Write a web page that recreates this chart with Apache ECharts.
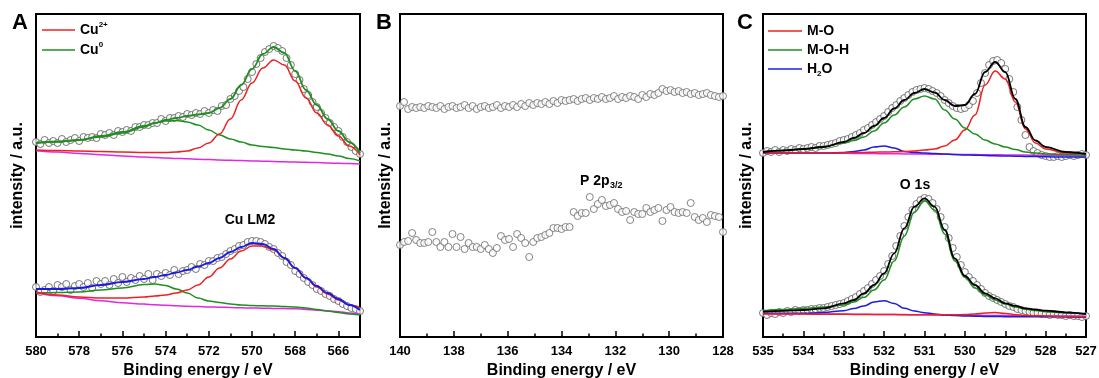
<!DOCTYPE html>
<html><head><meta charset="utf-8">
<script src="https://cdn.jsdelivr.net/npm/echarts@6/dist/echarts.min.js"></script>
<style>html,body{margin:0;padding:0;background:#fff}#c{width:1099px;height:378px}</style>
</head><body><div id="c"></div>
<script>
// ---------- Panel A : Cu LMM ----------
const aPtsX = [580,579.8,579.6,579.4,579.2,579,578.8,578.6,578.4,578.2,578,577.8,577.6,577.4,577.2,577,576.8,576.6,576.4,576.2,576,575.8,575.6,575.4,575.2,575,574.8,574.6,574.4,574.2,574,573.8,573.6,573.4,573.2,573,572.8,572.6,572.4,572.2,572,571.8,571.6,571.4,571.2,571,570.8,570.6,570.4,570.2,570,569.8,569.6,569.4,569.2,569,568.8,568.6,568.4,568.2,568,567.8,567.6,567.4,567.2,567,566.8,566.6,566.4,566.2,566,565.8,565.6,565.4,565.2,565];
const aUpPts = [195,193,197,194,196,194,198,195,197,199,196,200,199,200,199,203,202,204,202,206,205,207,206,210,210,212,212,214,214,218,216,219,219,221,220,223,222,224,223,226,224,227,226,231,232,238,241,246,250,258,265,273,279,285,288,291,289,286,279,272,263,257,248,242,235,230,224,219,214,210,206,200,195,190,186,183];
const aLowPts = [50,45,47,50,46,52,50,53,47,51,53,50,54,49,56,53,56,52,58,54,60,55,59,57,61,58,63,57,63,61,64,62,67,63,66,67,70,68,73,72,76,76,79,80,83,86,88,91,92,95,96,96,95,93,90,88,84,81,75,72,66,63,59,55,52,48,46,43,41,38,36,33,31,29,28,26];
const aFitX = [580,579,578,577,576,575,574.5,574,573.5,573,572.5,572,571.5,571,570.5,570,569.5,569,568.5,568,567.5,567,566.5,566,565.5,565];
const aUpEnv = [194,195.5,197,201,205,211,214,217,219,221,222.5,224,229,238,252,268,283,290,284,266,247,232,218,206,195,184];
const aUpCu2 = [187,186.5,186,185.5,185,184.5,184.5,184.5,185,186,189,194,203,218,237,254,269,277,272,256,239,224,212,201,191,182];
const aUpCu0 = [194,195,197,200,204,210,214,216,216.5,215,212,207,202,198,195,192,190.5,189.5,188,187,186,184.5,183,181,178.5,176];
const aUpBase = [186.3,185,183.6,182.3,181.1,180,179.5,179,178.6,178.2,177.8,177.4,177,176.7,176.4,176.1,175.8,175.5,175.2,175,174.7,174.4,174,173.7,173.4,173];
const aLowEnv = [48,48,49,52,55,58,60,62,64.5,67,70.5,74,79,85,90,94,93,88,79,69,59,51,44,38,32,27];
const aLowCu2 = [45,42,40,39,39,40,41,42,44,47,52,60,69,78,86,91,91,87,79,69,59,50,43,37,32,29];
const aLowCu0 = [44,44.5,45,47,49,52.5,53,51.5,48,44,39,36,34.5,33,32,31.5,31.2,31,30.5,30,29,27.5,26,24.5,23,22];
const aLowBase = [44.3,41.3,38.7,36.3,34.3,32.9,32.3,31.7,31.2,30.8,30.4,30,29.8,29.5,29.2,29,28.8,28.6,28.4,28.3,27.6,26.8,26,25.3,24,22.7];
const aMajor = [580,578,576,574,572,570,568,566];
const aMinor = [579,577,575,573,571,569,567,565];

// ---------- Panel B : P 2p ----------
const bPtsX = [140,139.85,139.7,139.55,139.4,139.25,139.1,138.95,138.8,138.65,138.5,138.35,138.2,138.05,137.9,137.75,137.6,137.45,137.3,137.15,137,136.85,136.7,136.55,136.4,136.25,136.1,135.95,135.8,135.65,135.5,135.35,135.2,135.05,134.9,134.75,134.6,134.45,134.3,134.15,134,133.85,133.7,133.55,133.4,133.25,133.1,132.95,132.8,132.65,132.5,132.35,132.2,132.05,131.9,131.75,131.6,131.45,131.3,131.15,131,130.85,130.7,130.55,130.4,130.25,130.1,129.95,129.8,129.65,129.5,129.35,129.2,129.05,128.9,128.75,128.6,128.45,128.3,128.15,128];
const bUpPts = [231,235,228,230,229,230,229,231,230,229,231,228,230,231,229,230,232,229,231,228,230,231,229,230,232,229,231,230,232,230,233,231,234,232,234,233,235,233,236,234,237,236,237,238,236,238,239,237,239,238,240,238,239,241,238,240,239,241,240,238,242,240,243,242,244,248,246,247,245,246,244,245,243,244,242,243,244,242,241,240,241];
const bLowPts = [92,95,96,104,97,94,94,95,105,95,90,95,90,103,90,100,88,94,90,90,88,92,88,84,89,101,97,98,90,103,99,94,80,95,99,100,102,104,109,109,108,110,110,125,121,124,124,140,128,133,137,131,132,134,128,125,126,117,125,123,123,129,125,127,129,116,127,130,125,124,125,124,134,120,117,119,115,122,121,120,105];
const bMajor = [140,138,136,134,132,130,128];
const bMinor = [139,137,135,133,131,129];

// ---------- Panel C : O 1s ----------
const cPtsX = [535,534.9,534.8,534.7,534.6,534.5,534.4,534.3,534.2,534.1,534,533.9,533.8,533.7,533.6,533.5,533.4,533.3,533.2,533.1,533,532.9,532.8,532.7,532.6,532.5,532.4,532.3,532.2,532.1,532,531.9,531.8,531.7,531.6,531.5,531.4,531.3,531.2,531.1,531,530.9,530.8,530.7,530.6,530.5,530.4,530.3,530.2,530.1,530,529.9,529.8,529.7,529.6,529.5,529.4,529.3,529.2,529.1,529,528.9,528.8,528.7,528.6,528.5,528.4,528.3,528.2,528.1,528,527.9,527.8,527.7,527.6,527.5,527.4,527.3,527.2,527.1,527];
const cUpPts = [184,186,185,187,185,187,186,188,187,189,188,189,190,189,191,191,192,193,194,196,197,198,200,202,204,207,209,212,215,218,221,225,229,232,236,239,242,245,247,248,249,248,246,244,241,237,234,231,229,228,229,232,236,244,254,264,272,276,277,274,268,258,245,230,217,202,190,186,184,182,181,180,180,181,180,181,182,181,182,183,182];
const cLowPts = [24,22,24,23,25,24,26,25,27,26,27,27,28,28,29,29,30,31,32,33,34,36,38,40,43,46,49,53,57,61,66,73,81,91,101,111,120,127,133,137,139,138,134,128,120,110,99,89,80,72,65,60,56,52,48,44,41,39,37,35,33,31,30,28,27,26,25,24,24,23,23,22,23,22,22,21,22,21,21,20,21];
const cFitX = [535,534.5,534,533.5,533,532.75,532.5,532.25,532,531.75,531.5,531.25,531,530.75,530.5,530.25,530,529.75,529.5,529.25,529,528.75,528.5,528.25,528,527.5,527];
const cUpSum = [185,186.5,188,190,195,199,204,211,219,228.5,237,244,248,244.5,237,231,232,243,265,275,265,238,210,196.5,190,185,183];
const cUpMO = [184,184,184,184,184.2,184.4,184.6,184.8,185,185.2,185.5,186,187,188,191,197,207,222,252,266,258,235,208,194,188,184,183];
const cUpMOH = [185,186.5,188,190.5,194,196.5,200,206,214,222,230,238,241,238,227,218,209,203,197,193,190,187.5,185,184,183,182.5,182];
const cUpH2O = [184,184,184,184,184.5,185.5,187,190,191,189,185.5,184.5,184,183.5,183,182.5,182,181.8,181.5,181.2,181,180.8,180.6,180.4,180.2,180,180];
const cUpBase = [184.5,184.3,184.1,183.9,183.7,183.6,183.5,183.4,183.3,183.2,183.1,183,182.9,182.8,182.7,182.6,182.5,182.4,182.3,182.2,182.1,182,181.9,181.8,181.7,181.4,181];
const cLowSum = [25.3,26.2,27,28.7,33.7,37,43.7,52,63.7,83.7,108.7,130.3,138.7,130.3,107,78.7,61,52,43.7,38.7,33.7,31.2,28.7,27.5,26.3,24.7,23];
const cLowMO = [23,23,22.9,22.8,22.7,22.6,22.5,22.5,22.4,22.4,22.3,22.3,22.3,22.3,22.3,22.3,22.4,23,24,24.5,23.5,22.3,21.8,21.3,21,20.6,20.3];
const cLowMOH = [26.3,27.5,28.7,30,32,35,39.7,47,57,76,101,125,136.3,127,103,76,59.7,49,42,37,33,30,27.7,26.5,25.3,24,23];
const cLowH2O = [23.7,23.7,23.7,24.5,26.3,28.5,31,35,36.3,33.5,28.7,26,24.3,23,22,21.5,21,20.8,20.6,20.5,20.3,20.3,20.3,20.3,20.3,20,19.7];
const cLowBase = [23.5,23.3,23.2,23,22.9,22.8,22.7,22.6,22.5,22.5,22.4,22.3,22.2,22.1,22,21.9,21.8,21.7,21.6,21.5,21.4,21.3,21.2,21.1,21,20.9,20.8];
const cMajor = [535,534,533,532,531,530,529,528,527];
const cMinor = [534.5,533.5,532.5,531.5,530.5,529.5,528.5,527.5];

// ---------- styling ----------
const F = "'Liberation Sans', Arial, sans-serif";
const RED = '#ee2020', GREEN = '#1f8f1f', BLUE = '#1c1ce0', MAG = '#e228e2', BLK = '#000';
const pairs = (xs, ys) => xs.map((x, i) => [x, ys[i]]);

const grids = [
  {left: 36, top: 14, width: 324, height: 323},
  {left: 400, top: 14, width: 323, height: 323},
  {left: 763, top: 14, width: 323, height: 323}
].map(g => Object.assign(g, {show: true, borderColor: '#000', borderWidth: 2, backgroundColor: 'transparent',
  containLabel: false, outerBoundsMode: 'none'}));

const ranges = [[565, 580, aMajor, aMinor], [128, 140, bMajor, bMinor], [527, 535, cMajor, cMinor]];
const xAxes = [];
ranges.forEach((r, g) => {
  xAxes.push({
    type: 'value', gridIndex: g, min: r[0], max: r[1], inverse: true, position: 'bottom',
    axisLine: {show: true, onZero: false, lineStyle: {color: BLK, width: 2}},
    axisTick: {show: true, inside: true, length: 6, customValues: r[2], lineStyle: {color: BLK, width: 1.5}},
    axisLabel: {customValues: r[2], margin: 8, color: BLK, fontFamily: F, fontWeight: 'bold', fontSize: 13},
    splitLine: {show: false},
    name: 'Binding energy / eV', nameLocation: 'middle', nameGap: 22,
    nameTextStyle: {color: BLK, fontFamily: F, fontWeight: 'bold', fontSize: 16}
  });
  xAxes.push({
    type: 'value', gridIndex: g, min: r[0], max: r[1], inverse: true, position: 'bottom', offset: 0,
    axisLine: {show: false},
    axisTick: {show: true, inside: true, length: 3.5, customValues: r[3], lineStyle: {color: BLK, width: 1.5}},
    axisLabel: {show: false}, splitLine: {show: false}
  });
});

const yNames = ['intensity / a.u.', 'Intensity / a.u.', 'intensity / a.u.'];
const yGaps = [10, 6, 8];
const yAxes = yNames.map((n, g) => ({
  type: 'value', gridIndex: g, min: 0, max: 323,
  axisLine: {show: true, lineStyle: {color: BLK, width: 2}},
  axisTick: {show: false}, axisLabel: {show: false}, splitLine: {show: false},
  name: n, nameLocation: 'middle', nameGap: yGaps[g],
  nameTextStyle: {color: BLK, fontFamily: F, fontWeight: 'bold', fontSize: 16}
}));

function pts(g, xs, ys, col) {
  return {type: 'scatter', xAxisIndex: g * 2, yAxisIndex: g, data: pairs(xs, ys),
    symbol: 'circle', symbolSize: 7, silent: true, z: 2,
    itemStyle: {color: '#fff', borderColor: col, borderWidth: 1}};
}
function fit(g, xs, ys, col, z, w) {
  return {type: 'line', xAxisIndex: g * 2, yAxisIndex: g, data: pairs(xs, ys),
    showSymbol: false, symbol: 'none', smooth: 0.4, smoothMonotone: 'x', silent: true, z: z,
    lineStyle: {color: col, width: w || 1.5}};
}

const series = [
  pts(0, aPtsX, aUpPts, '#555'), pts(0, aPtsX, aLowPts, '#555'),
  fit(0, aFitX, aUpBase, MAG, 3), fit(0, aFitX, aUpCu0, GREEN, 4), fit(0, aFitX, aUpCu2, RED, 5), fit(0, aFitX, aUpEnv, GREEN, 6, 1.8),
  fit(0, aFitX, aLowBase, MAG, 3), fit(0, aFitX, aLowCu0, GREEN, 4), fit(0, aFitX, aLowCu2, RED, 5), fit(0, aFitX, aLowEnv, BLUE, 6, 1.8),
  pts(1, bPtsX, bUpPts, '#666'), pts(1, bPtsX, bLowPts, '#666'),
  pts(2, cPtsX, cUpPts, '#555'), pts(2, cPtsX, cLowPts, '#555'),
  fit(2, cFitX, cUpBase, MAG, 3), fit(2, cFitX, cUpH2O, BLUE, 4), fit(2, cFitX, cUpMO, RED, 5), fit(2, cFitX, cUpMOH, GREEN, 6), fit(2, cFitX, cUpSum, BLK, 7, 1.8),
  fit(2, cFitX, cLowBase, MAG, 3), fit(2, cFitX, cLowH2O, BLUE, 4), fit(2, cFitX, cLowMO, RED, 5), fit(2, cFitX, cLowMOH, GREEN, 6), fit(2, cFitX, cLowSum, BLK, 7, 1.8)
];

const tx = (x, y, text, size, align, extra) => ({type: 'text', x: x, y: y, z: 100,
  style: Object.assign({text: text, fontSize: size, fontWeight: 'bold', fontFamily: F, fill: BLK, align: align || 'left', verticalAlign: 'middle'}, extra || {})});
const ln = (x1, x2, y, col) => ({type: 'line', z: 100, shape: {x1: x1, y1: y, x2: x2, y2: y}, style: {stroke: col, lineWidth: 1.5}});
const supRich = {
  m: {fontSize: 14, fontWeight: 'bold', fontFamily: F, fill: BLK, lineHeight: 16, verticalAlign: 'bottom'},
  s: {fontSize: 8, fontWeight: 'bold', fontFamily: F, fill: BLK, lineHeight: 8, verticalAlign: 'top'}
};
const subRich = {
  m: {fontSize: 14, fontWeight: 'bold', fontFamily: F, fill: BLK, lineHeight: 16, verticalAlign: 'top'},
  s: {fontSize: 8, fontWeight: 'bold', fontFamily: F, fill: BLK, lineHeight: 8, verticalAlign: 'bottom'}
};

const graphic = [
  tx(12, 23, 'A', 22), tx(376, 23, 'B', 22), tx(737, 23, 'C', 22),
  ln(42, 75, 30, RED), tx(80, 29, '{m|Cu}{s|2+}', 14, 'left', {rich: supRich}),
  ln(42, 75, 50, GREEN), tx(80, 49, '{m|Cu}{s|0}', 14, 'left', {rich: supRich}),
  ln(768, 802, 31, RED), tx(807, 31, 'M-O', 14),
  ln(768, 802, 50, GREEN), tx(807, 50, 'M-O-H', 14),
  ln(768, 802, 69, BLUE), tx(807, 70, '{m|H}{s|2}{m|O}', 14, 'left', {rich: subRich}),
  tx(250, 220, 'Cu LM2', 14, 'center'),
  tx(580, 181, 'P 2p', 14), tx(610, 186, '3/2', 9),
  tx(915, 185, 'O 1s', 14, 'center')
];

const chart = echarts.init(document.getElementById('c'), null, {renderer: 'canvas'});
chart.setOption({
  animation: false, backgroundColor: '#fff',
  grid: grids, xAxis: xAxes, yAxis: yAxes, series: series, graphic: graphic
});
</script></body></html>
